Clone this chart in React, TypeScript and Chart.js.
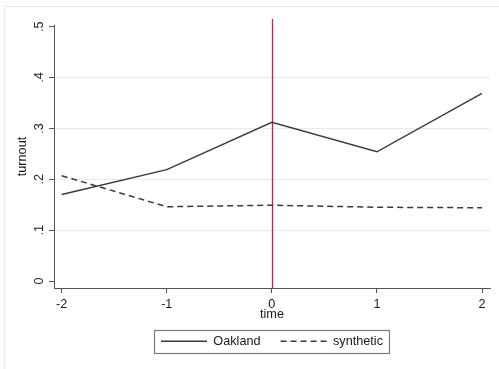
import React, { useEffect, useRef } from 'react';
import { Chart, registerables } from 'chart.js';

Chart.register(...registerables);

const times = [-2, -1, 0, 1, 2];
const oakland = [0.170, 0.219, 0.312, 0.254, 0.369];
const synthetic = [0.207, 0.146, 0.149, 0.145, 0.144];
const seriesNames = ['Oakland', 'synthetic'];
const yTickValues = [0, 0.1, 0.2, 0.3, 0.4, 0.5];
const yTickLabels = ['0', '.1', '.2', '.3', '.4', '.5'];
const treatmentTime = 0;

const FONT = '"Liberation Sans", Arial, sans-serif';
const FS = 12.7;
const TEXT = '#1a1a1a';
const AXIS = '#555555';
const GRID = '#e4eced';
const LINE = '#3a3a3a';
const RED = '#cf1c4b';

const yLabelFor = (v: number) => {
  const i = yTickValues.findIndex((t) => Math.abs(t - v) < 1e-9);
  return i >= 0 ? yTickLabels[i] : '';
};

const framePlugin = {
  id: 'frame',
  beforeDraw(chart: any) {
    const { ctx } = chart;
    ctx.save();
    ctx.fillStyle = '#ffffff';
    ctx.fillRect(0, 0, chart.width, chart.height);
    ctx.strokeStyle = '#e3eaec';
    ctx.lineWidth = 1;
    ctx.strokeRect(4.5, 6.5, chart.width + 10, chart.height + 10);
    ctx.restore();
  },
};

const xlinePlugin = {
  id: 'xline',
  beforeDatasetsDraw(chart: any) {
    const { ctx, chartArea } = chart;
    const x = Math.round(chart.scales.x.getPixelForValue(treatmentTime)) + 0.5;
    ctx.save();
    ctx.strokeStyle = RED;
    ctx.lineWidth = 1.3;
    ctx.beginPath();
    ctx.moveTo(x, chartArea.top - 6);
    ctx.lineTo(x, chartArea.bottom);
    ctx.stroke();
    ctx.restore();
  },
};

const yLabelsPlugin = {
  id: 'yRotatedLabels',
  afterDraw(chart: any) {
    const { ctx } = chart;
    const ys = chart.scales.y;
    ctx.save();
    ctx.font = `${FS}px ${FONT}`;
    ctx.fillStyle = TEXT;
    ctx.textAlign = 'center';
    ctx.textBaseline = 'alphabetic';
    ys.ticks.forEach((t: any) => {
      const py = ys.getPixelForValue(t.value);
      ctx.save();
      ctx.translate(ys.right - 11.5, py);
      ctx.rotate(-Math.PI / 2);
      ctx.fillText(yLabelFor(t.value), 0, 0);
      ctx.restore();
    });
    ctx.restore();
  },
};

const legendBorderPlugin = {
  id: 'legendBorder',
  afterDraw(chart: any) {
    const lg = chart.legend;
    if (!lg || !lg.legendHitBoxes || !lg.legendHitBoxes.length) return;
    const hb = lg.legendHitBoxes;
    let l = Infinity, r = -Infinity, t = Infinity, b = -Infinity;
    hb.forEach((h: any) => {
      l = Math.min(l, h.left);
      r = Math.max(r, h.left + h.width);
      t = Math.min(t, h.top);
      b = Math.max(b, h.top + h.height);
    });
    const { ctx } = chart;
    ctx.save();
    ctx.strokeStyle = '#7a7a7a';
    ctx.lineWidth = 1.2;
    ctx.strokeRect(Math.round(l - 7) + 0.5, Math.round(t - 5) + 0.5, Math.round(r - l + 13), Math.round(b - t + 10));
    ctx.restore();
  },
};

export default function App() {
  const ref = useRef<HTMLCanvasElement | null>(null);

  useEffect(() => {
    document.body.style.margin = '0';
    if (!ref.current) return;
    const baseGen = (Chart as any).defaults.plugins.legend.labels.generateLabels;
    const chart = new Chart(ref.current, {
      type: 'line',
      data: {
        datasets: [
          {
            label: seriesNames[0],
            data: times.map((t, i) => ({ x: t, y: oakland[i] })),
            borderColor: LINE,
            backgroundColor: LINE,
            borderWidth: 1.5,
            pointRadius: 0,
            tension: 0,
          },
          {
            label: seriesNames[1],
            data: times.map((t, i) => ({ x: t, y: synthetic[i] })),
            borderColor: LINE,
            backgroundColor: LINE,
            borderWidth: 1.5,
            borderDash: [6, 4],
            pointRadius: 0,
            tension: 0,
          },
        ],
      },
      options: {
        animation: false,
        responsive: false,
        layout: { padding: { left: 0, right: 9, top: 25, bottom: 11.3 } },
        scales: {
          x: {
            type: 'linear',
            min: -2.0733,
            max: 2.0761,
            afterFit: (s: any) => {
              s.height = 27;
            },
            ticks: {
              stepSize: 1,
              includeBounds: false,
              padding: 3.4,
              color: TEXT,
              font: { family: FONT, size: FS },
              callback: (v: any) => String(v),
            },
            grid: {
              drawOnChartArea: false,
              drawTicks: true,
              tickLength: 5,
              tickColor: AXIS,
            },
            border: { display: true, color: AXIS, width: 1 },
            title: {
              display: true,
              text: 'time',
              color: TEXT,
              font: { family: FONT, size: FS },
              padding: { top: 0, bottom: -7.6 },
            },
          },
          y: {
            type: 'linear',
            min: -0.01376,
            max: 0.50334,
            afterFit: (s: any) => {
              s.width = 54;
            },
            ticks: {
              stepSize: 0.1,
              includeBounds: false,
              display: false,
            },
            grid: {
              color: (c: any) =>
                c.tick && (Math.abs(c.tick.value) < 1e-9 || Math.abs(c.tick.value - 0.5) < 1e-9)
                  ? 'rgba(0,0,0,0)'
                  : GRID,
              lineWidth: 1,
              drawTicks: true,
              tickLength: 5,
              tickColor: AXIS,
            },
            border: { display: true, color: AXIS, width: 1 },
            title: {
              display: true,
              text: 'turnout',
              color: TEXT,
              font: { family: FONT, size: FS },
              padding: { top: 15, bottom: 0 },
            },
          },
        },
        plugins: {
          legend: {
            display: true,
            position: 'bottom',
            fullSize: false,
            labels: {
              usePointStyle: true,
              pointStyle: 'line',
              pointStyleWidth: 46,
              padding: 20,
              color: TEXT,
              font: { family: FONT, size: FS },
              generateLabels: (ch: any) =>
                baseGen(ch).map((item: any) => {
                  const ds = ch.data.datasets[item.datasetIndex];
                  return {
                    ...item,
                    lineDash: ds.borderDash || [],
                    lineWidth: ds.borderWidth,
                    strokeStyle: ds.borderColor,
                    pointStyle: 'line',
                  };
                }),
            },
          },
          tooltip: { enabled: false },
        },
      } as any,
      plugins: [framePlugin, xlinePlugin, yLabelsPlugin, legendBorderPlugin],
    });
    return () => chart.destroy();
  }, []);

  return (
    <div style={{ width: 499, height: 369 }}>
      <canvas ref={ref} width={499} height={369} style={{ display: 'block' }} />
    </div>
  );
}
